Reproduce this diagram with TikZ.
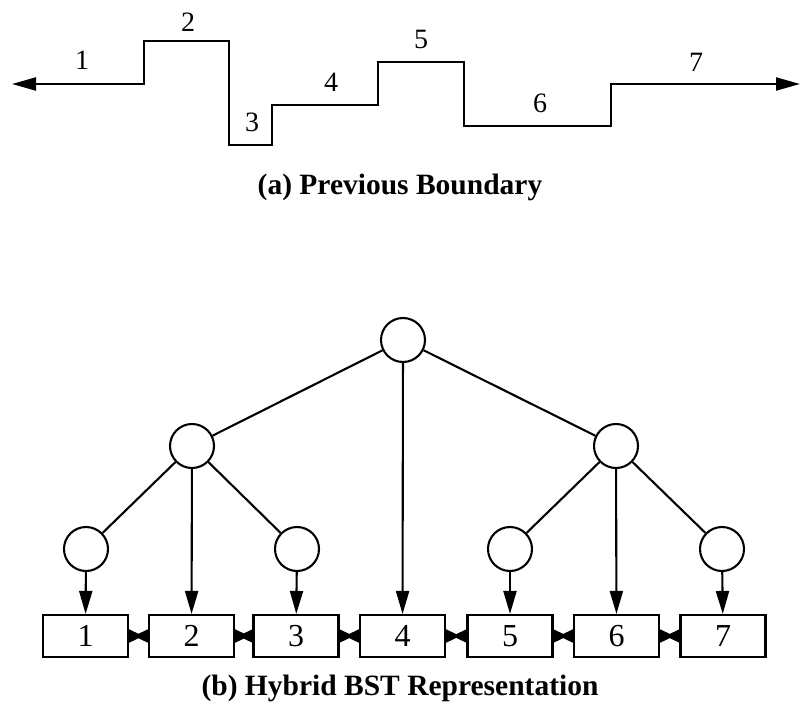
\documentclass[tikz,border=0pt]{standalone}
\usepackage{fontspec}
\setmainfont{Liberation Serif}
\usetikzlibrary{arrows.meta}
\begin{document}
\begin{tikzpicture}[x=1pt,y=-1pt,
  ln/.style={line width=2.1pt},
  arrowed/.style={-{Triangle[length=23pt,width=13pt]}},
  tnode/.style={circle,draw,line width=2.1pt,minimum size=44pt,inner sep=0pt},
  cell/.style={rectangle,draw,line width=2.1pt,minimum width=85pt,minimum height=42pt,inner sep=0pt,font=\fontsize{32}{36}\selectfont},
  lbl/.style={font=\fontsize{28}{32}\selectfont,inner sep=0pt},
  captext/.style={font=\fontsize{29.5}{34}\selectfont\bfseries,inner sep=0pt},
  link/.style={line width=2.1pt,{Triangle[reversed,length=14pt,width=13pt]}-{Triangle[reversed,length=14pt,width=13pt]}}]
\useasboundingbox (0,0) rectangle (800,715);
% ---- (a) boundary
\coordinate (s) at (12,84);
\coordinate (e) at (800,84);
\draw[ln,{Triangle[length=24pt,width=13pt]}-{Triangle[length=24pt,width=13pt]}]
  (s) -- (144,84) -- (144,41) -- (229,41) -- (229,145) -- (272,145) -- (272,105)
  -- (378,105) -- (378,62) -- (464,62) -- (464,126) -- (611,126) -- (611,84) -- (e);
\node[lbl] (l1) at (82,60) {1};
\node[lbl] (l2) at (188,22) {2};
\node[lbl] (l3) at (252,122) {3};
\node[lbl] (l4) at (331,82) {4};
\node[lbl] (l5) at (421,39) {5};
\node[lbl] (l6) at (540,103) {6};
\node[lbl] (l7) at (696,62) {7};
\node[captext] (capa) at (400,187) {(a) Previous Boundary};
% ---- (b) tree
\node[tnode] (r) at (403,340) {};
\node[tnode] (a) at (192,446) {};
\node[tnode] (b) at (616,446) {};
\node[tnode] (c) at (86,549) {};
\node[tnode] (d) at (297,549) {};
\node[tnode] (f) at (510,549) {};
\node[tnode] (g) at (722,549) {};
\node[cell] (k1) at (85.5,636) {1};
\node[cell] (k2) at (191.5,636) {2};
\node[cell] (k3) at (296,636) {3};
\node[cell] (k4) at (402.5,636) {4};
\node[cell] (k5) at (510,636) {5};
\node[cell] (k6) at (616.5,636) {6};
\node[cell] (k7) at (723,636) {7};
\draw[ln] (r) -- (a);
\draw[ln] (r) -- (b);
\draw[ln] (a) -- (c);
\draw[ln] (a) -- (d);
\draw[ln] (b) -- (f);
\draw[ln] (b) -- (g);
\draw[ln,arrowed] (c) -- (k1);
\draw[ln,arrowed] (a) -- (k2);
\draw[ln,arrowed] (d) -- (k3);
\draw[ln,arrowed] (r) -- (k4);
\draw[ln,arrowed] (f) -- (k5);
\draw[ln,arrowed] (b) -- (k6);
\draw[ln,arrowed] (g) -- (k7);
\draw[link] (k1) -- (k2);
\draw[link] (k2) -- (k3);
\draw[link] (k3) -- (k4);
\draw[link] (k4) -- (k5);
\draw[link] (k5) -- (k6);
\draw[link] (k6) -- (k7);
\node[captext] (capb) at (400,688) {(b) Hybrid BST Representation};
\end{tikzpicture}
\end{document}
